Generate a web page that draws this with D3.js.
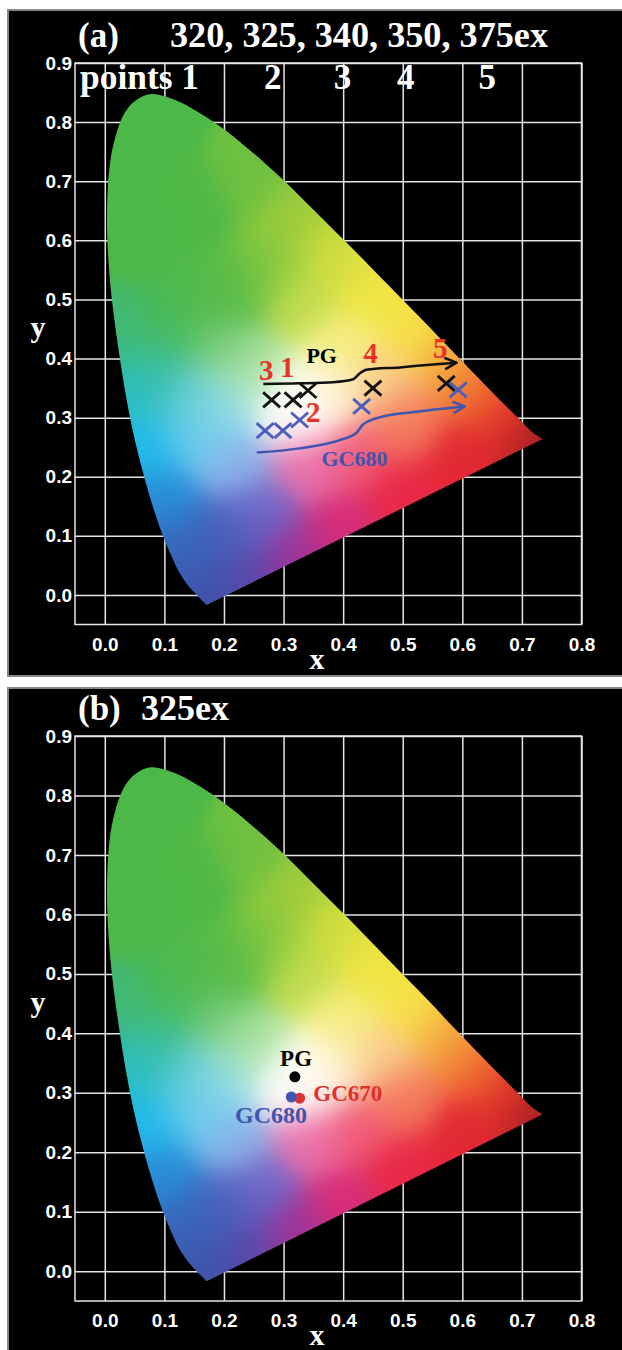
<!DOCTYPE html>
<html>
<head>
<meta charset="utf-8">
<script src="https://cdn.jsdelivr.net/npm/d3@7"></script>
<style>
  body { margin: 0; background: #fff; }
  svg { display: block; }
  .tick text { font-family: 'Liberation Sans', Arial, sans-serif; font-weight: bold; font-size: 19px; fill: #fff; }
  .serif { font-family: 'Liberation Serif', 'Times New Roman', serif; font-weight: bold; }
</style>
</head>
<body>
<div id="chart"></div>
<script>
const xTicks = [0, 0.1, 0.2, 0.3, 0.4, 0.5, 0.6, 0.7, 0.8];
const yTicks = [0, 0.1, 0.2, 0.3, 0.4, 0.5, 0.6, 0.7, 0.8, 0.9];

// spectral locus (x, y)
const locus = [
  [0.171, -0.017], [0.144, 0.011], [0.136, 0.021], [0.124, 0.040], [0.110, 0.070],
  [0.091, 0.118], [0.069, 0.189], [0.045, 0.287], [0.024, 0.409], [0.008, 0.540],
  [0.004, 0.661], [0.014, 0.760], [0.039, 0.824], [0.074, 0.847], [0.114, 0.839],
  [0.155, 0.818], [0.193, 0.793], [0.230, 0.764], [0.266, 0.733], [0.302, 0.700],
  [0.337, 0.665], [0.373, 0.629], [0.409, 0.593], [0.444, 0.557], [0.479, 0.521],
  [0.513, 0.486], [0.545, 0.453], [0.575, 0.421], [0.603, 0.392], [0.627, 0.367],
  [0.666, 0.327], [0.692, 0.301], [0.719, 0.274], [0.735, 0.264]
];

// colour samples inside the diagram: x, y, r, g, b
const gamutColors = [
  [0.07, 0.80, 76, 184, 72], [0.05, 0.60, 76, 184, 72], [0.15, 0.65, 78, 184, 70],
  [0.15, 0.50, 80, 186, 76], [0.22, 0.52, 90, 188, 70], [0.10, 0.45, 70, 186, 90],
  [0.25, 0.70, 110, 192, 64], [0.32, 0.64, 160, 204, 58], [0.28, 0.56, 130, 198, 62],
  [0.33, 0.50, 195, 220, 80], [0.38, 0.57, 210, 222, 60], [0.45, 0.51, 240, 228, 66],
  [0.52, 0.45, 246, 226, 70], [0.58, 0.40, 244, 170, 64], [0.63, 0.35, 240, 110, 50],
  [0.68, 0.30, 228, 50, 42], [0.73, 0.265, 160, 30, 36], [0.60, 0.22, 225, 40, 50],
  [0.50, 0.17, 232, 40, 70], [0.40, 0.11, 215, 45, 120], [0.32, 0.06, 160, 50, 150],
  [0.24, 0.02, 90, 70, 170], [0.17, 0.00, 60, 85, 170], [0.13, 0.08, 55, 100, 185],
  [0.20, 0.10, 70, 95, 185], [0.10, 0.16, 40, 140, 215], [0.07, 0.25, 30, 185, 235],
  [0.04, 0.34, 40, 190, 200], [0.02, 0.44, 65, 185, 120], [0.08, 0.38, 55, 190, 160],
  [0.16, 0.27, 110, 205, 240], [0.14, 0.33, 90, 200, 210], [0.22, 0.22, 140, 180, 235],
  [0.26, 0.14, 110, 100, 200], [0.31, 0.31, 255, 255, 255], [0.34, 0.32, 255, 255, 255],
  [0.38, 0.34, 255, 242, 205], [0.25, 0.38, 178, 228, 160], [0.20, 0.33, 160, 225, 230],
  [0.40, 0.42, 245, 240, 130], [0.46, 0.36, 250, 205, 140], [0.34, 0.22, 235, 110, 170],
  [0.42, 0.24, 240, 90, 120], [0.50, 0.29, 244, 120, 90], [0.19, 0.42, 115, 202, 115]
];

// panel (a): chromaticity of points 1-5
const pgCrosses = [[0.280, 0.330], [0.316, 0.330], [0.341, 0.346], [0.450, 0.350], [0.573, 0.358]];
const gc680Crosses = [[0.269, 0.278], [0.299, 0.278], [0.327, 0.296], [0.431, 0.319], [0.593, 0.347]];
const pgPath = [[0.266, 0.357], [0.327, 0.358], [0.383, 0.360], [0.417, 0.365], [0.428, 0.375],
  [0.439, 0.381], [0.495, 0.385], [0.551, 0.390], [0.590, 0.393]];
const gc680Path = [[0.255, 0.241], [0.327, 0.248], [0.394, 0.262], [0.422, 0.274], [0.433, 0.288],
  [0.456, 0.299], [0.523, 0.310], [0.604, 0.319]];
const pointNumbers = [
  {t: '3', x: 0.271, y: 0.381}, {t: '1', x: 0.306, y: 0.386}, {t: '2', x: 0.350, y: 0.310},
  {t: '4', x: 0.446, y: 0.410}, {t: '5', x: 0.563, y: 0.418}
];
const headerNumbers = [{t: '2', x: 0.282}, {t: '3', x: 0.399}, {t: '4', x: 0.505}, {t: '5', x: 0.642}];

// panel (b): 325ex
const dotsB = [
  {name: 'PG', x: 0.319, y: 0.327, color: '#000'},
  {name: 'GC670', x: 0.327, y: 0.291, color: '#e0302c'},
  {name: 'GC680', x: 0.313, y: 0.293, color: '#3f55b0'}
];

const W = 622, H = 1350;
const svg = d3.select('#chart').append('svg').attr('width', W).attr('height', H);
svg.append('rect').attr('width', W).attr('height', H).attr('fill', '#fff');

const defs = svg.append('defs');
[['arrowBlack', '#111'], ['arrowBlue', '#3f55b0']].forEach(([id, col]) => {
  defs.append('marker').attr('id', id)
      .attr('viewBox', '0 0 12 12').attr('refX', 11).attr('refY', 6)
      .attr('markerUnits', 'userSpaceOnUse').attr('markerWidth', 14).attr('markerHeight', 14)
      .attr('orient', 'auto')
    .append('path').attr('d', 'M1,1L11,6L1,11').attr('fill', 'none')
      .attr('stroke', col).attr('stroke-width', 2.2);
});

function gamutColor(cx, cy) {
  let min = Infinity;
  const d2s = gamutColors.map(c => {
    const d2 = (cx - c[0]) ** 2 + (cy - c[1]) ** 2;
    if (d2 < min) min = d2;
    return d2;
  });
  const s2 = 2 * 0.04 * 0.04;
  let sw = 0, r = 0, g = 0, b = 0;
  gamutColors.forEach((c, i) => {
    const w = Math.exp(-(d2s[i] - min) / s2);
    sw += w; r += w * c[2]; g += w * c[3]; b += w * c[4];
  });
  return [r / sw, g / sw, b / sw];
}

function drawPanel(id, box, yRange, title) {
  const x = d3.scaleLinear().domain([-0.05, 0.8]).range([75, 581.5]);
  const y = d3.scaleLinear().domain([-0.05, 0.9]).range(yRange);
  const g = svg.append('g').attr('id', id);

  g.append('rect').attr('x', box[0]).attr('y', box[1]).attr('width', box[2]).attr('height', box[3])
      .attr('fill', '#000').attr('stroke', '#888').attr('stroke-width', 2);

  const plotH = y(-0.05) - y(0.9), plotW = x(0.8) - x(-0.05);
  const gx = g.append('g').attr('transform', `translate(0,${y(-0.05)})`)
      .call(d3.axisBottom(x).tickValues(xTicks).tickSize(-plotH).tickPadding(13).tickFormat(d3.format('.1f')));
  const gy = g.append('g').attr('transform', `translate(${x(-0.05)},0)`)
      .call(d3.axisLeft(y).tickValues(yTicks).tickSize(-plotW).tickPadding(3).tickFormat(d3.format('.1f')));
  [gx, gy].forEach(a => {
    a.select('.domain').remove();
    a.selectAll('line').attr('stroke', '#e6e6e6').attr('stroke-width', 1.5);
  });
  g.append('rect').attr('x', x(-0.05)).attr('y', y(0.9)).attr('width', plotW).attr('height', plotH)
      .attr('fill', 'none').attr('stroke', '#e6e6e6').attr('stroke-width', 1.5);

  // colour fill of the chromaticity diagram
  const x0 = Math.floor(x(-0.05)), y0 = Math.floor(y(0.9));
  const cw = Math.ceil(plotW) + 1, ch = Math.ceil(plotH) + 1;
  const canvas = document.createElement('canvas');
  canvas.width = cw; canvas.height = ch;
  const ctx = canvas.getContext('2d');
  const img = ctx.createImageData(cw, ch);
  for (let j = 0; j < ch; j++) {
    const cy = y.invert(y0 + j + 0.5);
    for (let i = 0; i < cw; i++) {
      const cx = x.invert(x0 + i + 0.5);
      const c = gamutColor(cx, cy);
      const k = (j * cw + i) * 4;
      img.data[k] = c[0]; img.data[k + 1] = c[1]; img.data[k + 2] = c[2]; img.data[k + 3] = 255;
    }
  }
  ctx.putImageData(img, 0, 0);
  const line = d3.line().x(d => x(d[0])).y(d => y(d[1])).curve(d3.curveCatmullRom);
  defs.append('clipPath').attr('id', id + '-clip')
    .append('path').attr('d', line(locus) + 'Z');
  g.append('image').attr('x', x0).attr('y', y0).attr('width', cw).attr('height', ch)
      .attr('href', canvas.toDataURL()).attr('clip-path', `url(#${id}-clip)`);

  // axis titles
  g.append('text').attr('class', 'serif').attr('x', 317).attr('y', y(-0.05) + 44)
      .attr('text-anchor', 'middle').attr('font-size', 30).attr('fill', '#fff').text('x');
  g.append('text').attr('class', 'serif').attr('x', 38).attr('y', y(0.45) + 8)
      .attr('text-anchor', 'middle').attr('font-size', 30).attr('fill', '#fff').text('y');

  g.append('text').attr('class', 'serif').attr('x', 78).attr('y', y(0.9) - 16)
      .attr('font-size', 35).attr('fill', '#fff').text(title[0]);
  g.append('text').attr('class', 'serif').attr('x', title[2]).attr('y', y(0.9) - 16)
      .attr('font-size', 35).attr('fill', '#fff')
      .attr('textLength', title[3]).attr('lengthAdjust', 'spacingAndGlyphs').text(title[1]);
  return {g, x, y};
}

// ---- panel (a)
const A = drawPanel('pa', [8, 10, 616, 666], [624.5, 63], ['(a)', '320, 325, 340, 350, 375ex', 170, 378]);
A.g.append('text').attr('class', 'serif').attr('x', 80).attr('y', A.y(0.9) + 26)
    .attr('font-size', 35).attr('fill', '#fff')
    .attr('textLength', 119).attr('lengthAdjust', 'spacingAndGlyphs').text('points 1');
A.g.selectAll('.hdr').data(headerNumbers).join('text').attr('class', 'serif hdr')
    .attr('x', d => A.x(d.x)).attr('y', A.y(0.9) + 26).attr('text-anchor', 'middle')
    .attr('font-size', 35).attr('fill', '#fff').text(d => d.t);

const curve = d3.line().x(d => A.x(d[0])).y(d => A.y(d[1])).curve(d3.curveMonotoneX);
A.g.append('path').attr('d', curve(pgPath)).attr('fill', 'none').attr('stroke', '#111')
    .attr('stroke-width', 2.5).attr('marker-end', 'url(#arrowBlack)');
A.g.append('path').attr('d', curve(gc680Path)).attr('fill', 'none').attr('stroke', '#3f55b0')
    .attr('stroke-width', 2.5).attr('marker-end', 'url(#arrowBlue)');

const cross = 'M-8.5,-7.5L8.5,7.5M-8.5,7.5L8.5,-7.5';
A.g.selectAll('.pgx').data(pgCrosses).join('path').attr('class', 'pgx')
    .attr('transform', d => `translate(${A.x(d[0])},${A.y(d[1])})`)
    .attr('d', cross).attr('stroke', '#111').attr('stroke-width', 2.8).attr('fill', 'none');
A.g.selectAll('.gcx').data(gc680Crosses).join('path').attr('class', 'gcx')
    .attr('transform', d => `translate(${A.x(d[0])},${A.y(d[1])})`)
    .attr('d', cross).attr('stroke', '#4a5fbd').attr('stroke-width', 2.8).attr('fill', 'none');

A.g.selectAll('.num').data(pointNumbers).join('text').attr('class', 'serif num')
    .attr('x', d => A.x(d.x)).attr('y', d => A.y(d.y)).attr('dy', '0.35em')
    .attr('text-anchor', 'middle').attr('font-size', 29).attr('fill', '#e8332a').text(d => d.t);
A.g.append('text').attr('class', 'serif').attr('x', A.x(0.364)).attr('y', A.y(0.406)).attr('dy', '0.35em')
    .attr('text-anchor', 'middle').attr('font-size', 22).attr('fill', '#000').text('PG');
A.g.append('text').attr('class', 'serif').attr('x', A.x(0.419)).attr('y', A.y(0.232)).attr('dy', '0.35em')
    .attr('text-anchor', 'middle').attr('font-size', 22).attr('fill', '#3f55b0').text('GC680');

// ---- panel (b)
const B = drawPanel('pb', [8, 688, 616, 664], [1301, 736], ['(b)', '325ex', 141, 88]);
B.g.selectAll('.dot').data(dotsB).join('circle').attr('class', 'dot')
    .attr('cx', d => B.x(d.x)).attr('cy', d => B.y(d.y)).attr('r', 5.5).attr('fill', d => d.color);
B.g.append('text').attr('class', 'serif').attr('x', B.x(0.321)).attr('y', B.y(0.359)).attr('dy', '0.35em')
    .attr('text-anchor', 'middle').attr('font-size', 23).attr('fill', '#000').text('PG');
B.g.append('text').attr('class', 'serif').attr('x', B.x(0.350)).attr('y', B.y(0.300)).attr('dy', '0.35em')
    .attr('font-size', 23).attr('fill', '#e0302c').text('GC670');
B.g.append('text').attr('class', 'serif').attr('x', B.x(0.279)).attr('y', B.y(0.263)).attr('dy', '0.35em')
    .attr('text-anchor', 'middle').attr('font-size', 24).attr('fill', '#3f55b0').text('GC680');
</script>
</body>
</html>
